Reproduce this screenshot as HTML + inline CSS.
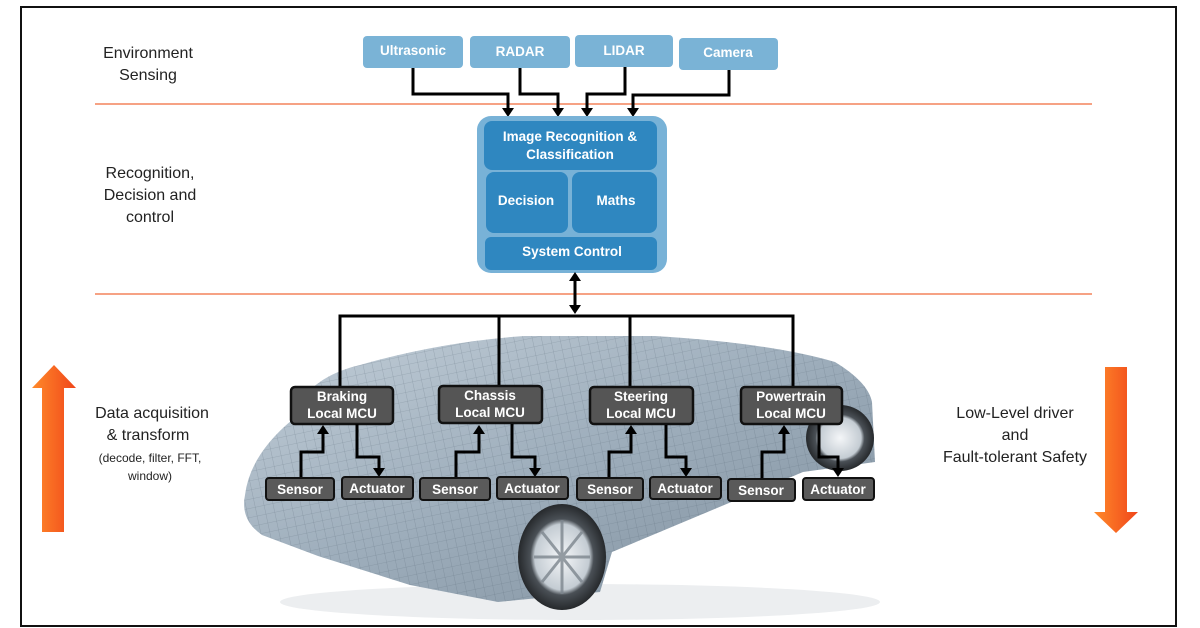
<!DOCTYPE html>
<html><head><meta charset="utf-8"><style>
html,body{margin:0;padding:0;background:#fff;}
svg{display:block;font-family:"Liberation Sans",Arial,sans-serif;}
</style></head><body>
<svg width="1200" height="628" viewBox="0 0 1200 628" xmlns="http://www.w3.org/2000/svg">
<defs>
<linearGradient id="car" x1="0" y1="0" x2="1" y2="1">
<stop offset="0" stop-color="#c2ced8"/><stop offset="0.5" stop-color="#9dadbb"/><stop offset="1" stop-color="#7f8f9d"/>
</linearGradient>
<pattern id="grid" width="9" height="9" patternUnits="userSpaceOnUse" patternTransform="rotate(-12)">
<path d="M0 0H9M0 0V9" stroke="#4a5a6a" stroke-width="0.6" opacity="0.45"/>
</pattern>
<linearGradient id="org" x1="0" y1="0" x2="1" y2="0">
<stop offset="0" stop-color="#ff8a2a"/><stop offset="1" stop-color="#f0461a"/>
</linearGradient>
<radialGradient id="wheel"><stop offset="0" stop-color="#f4f6f8"/><stop offset="0.62" stop-color="#c4ccd3"/><stop offset="0.72" stop-color="#4a5056"/><stop offset="1" stop-color="#26292c"/></radialGradient>
</defs>
<rect x="21" y="7" width="1155" height="619" fill="#fff" stroke="#111" stroke-width="2"/>
<!-- car -->
<ellipse cx="580" cy="602" rx="300" ry="18" fill="#eceef0"/>
<path d="M292 420 Q305 378 360 365 Q440 342 524 336 L655 336 Q770 343 835 362 Q868 382 872 402 L875 462 L803 472 L612 552 L600 592 L498 602 L410 585 L318 556 L262 535 Q240 520 245 495 Q250 455 292 420 Z" fill="url(#car)"/>
<path d="M292 420 Q305 378 360 365 Q440 342 524 336 L655 336 Q770 343 835 362 Q868 382 872 402 L875 462 L803 472 L612 552 L600 592 L498 602 L410 585 L318 556 L262 535 Q240 520 245 495 Q250 455 292 420 Z" fill="url(#grid)"/>
<ellipse cx="562" cy="557" rx="44" ry="53" fill="url(#wheel)"/>
<g stroke="#7d868e" stroke-width="3" opacity="0.8">
<line x1="562" y1="520" x2="562" y2="594"/><line x1="534" y1="557" x2="590" y2="557"/>
<line x1="542" y1="532" x2="582" y2="582"/><line x1="582" y1="532" x2="542" y2="582"/>
</g>
<ellipse cx="840" cy="438" rx="34" ry="33" fill="url(#wheel)"/>
<!-- orange lines -->
<line x1="95" y1="104" x2="1092" y2="104" stroke="#f06a3a" stroke-width="1.3"/>
<line x1="95" y1="294" x2="1092" y2="294" stroke="#f06a3a" stroke-width="1.3"/>
<!-- left labels -->
<g font-size="16" fill="#222" text-anchor="middle">
<text x="148" y="58">Environment</text><text x="148" y="80">Sensing</text>
<text x="150" y="178">Recognition,</text><text x="150" y="200">Decision and</text><text x="150" y="222">control</text>
<text x="152" y="418">Data acquisition</text><text x="148" y="440">&amp; transform</text>
<text x="1015" y="418">Low-Level driver</text><text x="1015" y="440">and</text><text x="1015" y="462">Fault-tolerant Safety</text>
</g>
<g font-size="12" fill="#222" text-anchor="middle">
<text x="150" y="462">(decode, filter, FFT,</text><text x="150" y="480">window)</text>
</g>
<!-- orange arrows -->
<path d="M54 365 L76 388 L64 388 L64 532 L42 532 L42 388 L32 388 Z" fill="url(#org)"/>
<path d="M1105 367 L1127 367 L1127 512 L1138 512 L1116 533 L1094 512 L1105 512 Z" fill="url(#org)"/>
<!-- sensing boxes -->
<g fill="#7ab3d6">
<rect x="363" y="36" width="100" height="32" rx="4"/>
<rect x="470" y="36" width="100" height="32" rx="4"/>
<rect x="575" y="35" width="98" height="32" rx="4"/>
<rect x="679" y="38" width="99" height="32" rx="4"/>
</g>
<g fill="#fff" font-size="13.5" font-weight="bold" text-anchor="middle">
<text x="413" y="55">Ultrasonic</text><text x="520" y="56">RADAR</text><text x="624" y="55">LIDAR</text><text x="728" y="57">Camera</text>
</g>
<!-- arrows to central -->
<g stroke="#000" stroke-width="3" fill="none">
<path d="M413 68 V94 H508 V110"/>
<path d="M520 68 V94 H558 V110"/>
<path d="M625 67 V94 H587 V110"/>
<path d="M729 70 V95 H633 V110"/>
</g>
<g fill="#000">
<path d="M502 108 L514 108 L508 117 Z"/><path d="M552 108 L564 108 L558 117 Z"/>
<path d="M581 108 L593 108 L587 117 Z"/><path d="M627 108 L639 108 L633 117 Z"/>
</g>
<!-- central block -->
<rect x="477" y="116" width="190" height="157" rx="14" fill="#78b2d7"/>
<rect x="484" y="121" width="173" height="49" rx="8" fill="#2f87c0"/>
<rect x="486" y="172" width="82" height="61" rx="8" fill="#2f87c0"/>
<rect x="572" y="172" width="85" height="61" rx="8" fill="#2f87c0"/>
<rect x="485" y="237" width="172" height="33" rx="6" fill="#2f87c0"/>
<g fill="#fff" font-size="13.5" font-weight="bold" text-anchor="middle">
<text x="570" y="141">Image Recognition &amp;</text><text x="570" y="159">Classification</text>
<text x="526" y="205">Decision</text><text x="616" y="205">Maths</text>
<text x="572" y="256">System Control</text>
</g>
<!-- bus -->
<g stroke="#000" stroke-width="3" fill="none">
<line x1="575" y1="278" x2="575" y2="308"/>
<path d="M340 387 V316 H793 V387"/>
<line x1="499" y1="316" x2="499" y2="386"/>
<line x1="630" y1="316" x2="630" y2="387"/>
</g>
<path d="M569 281 L581 281 L575 272 Z M569 305 L581 305 L575 314 Z" fill="#000"/>
<!-- MCUs -->
<g fill="#555" stroke="#111" stroke-width="2.5">
<rect x="291" y="387" width="102" height="37" rx="4"/>
<rect x="439" y="386" width="103" height="37" rx="4"/>
<rect x="590" y="387" width="103" height="37" rx="4"/>
<rect x="741" y="387" width="101" height="37" rx="4"/>
</g>
<g fill="#fff" font-size="13.5" font-weight="bold" text-anchor="middle">
<text x="342" y="401">Braking</text><text x="342" y="418">Local MCU</text>
<text x="490" y="400">Chassis</text><text x="490" y="417">Local MCU</text>
<text x="641" y="401">Steering</text><text x="641" y="418">Local MCU</text>
<text x="791" y="401">Powertrain</text><text x="791" y="418">Local MCU</text>
</g>
<!-- sensor/actuator -->
<g stroke="#000" stroke-width="3" fill="none">
<path d="M301 478 V452 H323 V432"/><path d="M357 424 V457 H379 V470"/>
<path d="M456 478 V452 H479 V432"/><path d="M512 424 V457 H535 V470"/>
<path d="M609 478 V452 H631 V432"/><path d="M666 425 V457 H686 V470"/>
<path d="M762 478 V452 H784 V432"/><path d="M819 424 V457 H838 V470"/>
</g>
<g fill="#000">
<path d="M317 434 L329 434 L323 425 Z"/><path d="M373 468 L385 468 L379 477 Z"/>
<path d="M473 434 L485 434 L479 425 Z"/><path d="M529 468 L541 468 L535 477 Z"/>
<path d="M625 434 L637 434 L631 425 Z"/><path d="M680 468 L692 468 L686 477 Z"/>
<path d="M778 434 L790 434 L784 425 Z"/><path d="M832 468 L844 468 L838 477 Z"/>
</g>
<g fill="#5a5a5a" stroke="#111" stroke-width="2">
<rect x="266" y="478" width="68" height="22" rx="3"/><rect x="342" y="477" width="71" height="22" rx="3"/>
<rect x="420" y="478" width="70" height="22" rx="3"/><rect x="497" y="477" width="71" height="22" rx="3"/>
<rect x="577" y="478" width="66" height="22" rx="3"/><rect x="650" y="477" width="71" height="22" rx="3"/>
<rect x="728" y="479" width="67" height="22" rx="3"/><rect x="803" y="478" width="71" height="22" rx="3"/>
</g>
<g fill="#fff" font-size="13.5" font-weight="bold" text-anchor="middle">
<text x="300" y="494">Sensor</text><text x="377" y="493">Actuator</text>
<text x="455" y="494">Sensor</text><text x="532" y="493">Actuator</text>
<text x="610" y="494">Sensor</text><text x="685" y="493">Actuator</text>
<text x="761" y="495">Sensor</text><text x="838" y="494">Actuator</text>
</g>
</svg>
</body></html>
